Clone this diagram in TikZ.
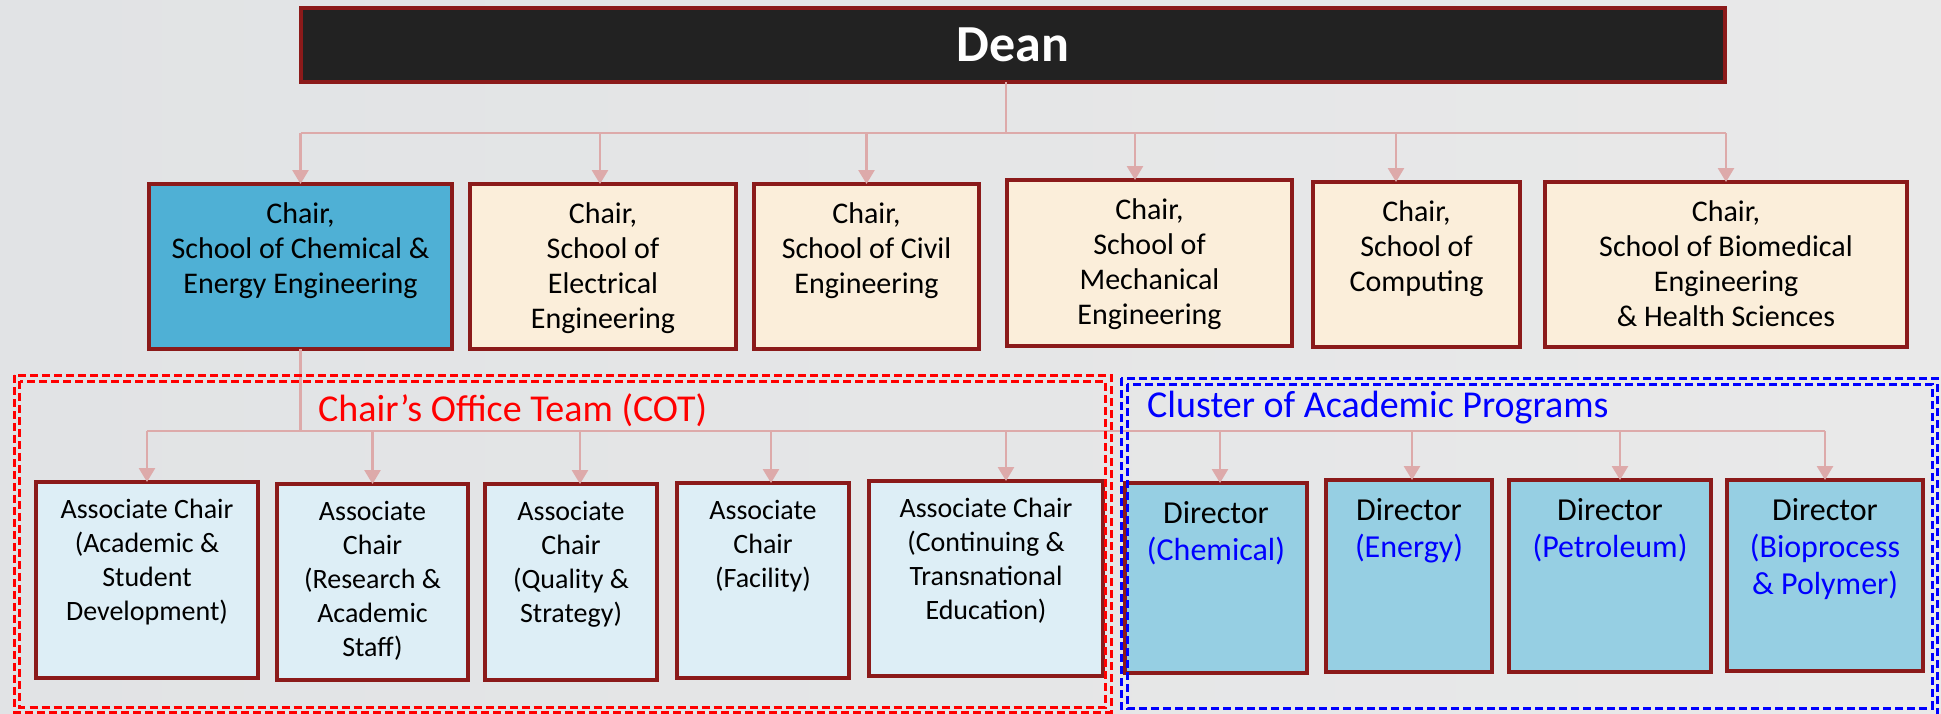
\documentclass[tikz,border=0pt]{standalone}
\usepackage{fontspec}
\setmainfont{Carlito}
\usetikzlibrary{arrows.meta}
\definecolor{bord}{HTML}{8B1A1A}
\definecolor{clink}{HTML}{DDAAAA}
\definecolor{cream}{HTML}{FBEEDA}
\definecolor{chemblue}{HTML}{4FB0D5}
\definecolor{acfill}{HTML}{DDEEF6}
\definecolor{dirfill}{HTML}{96CFE3}
\definecolor{deanfill}{HTML}{222222}
\definecolor{bgleft}{HTML}{E1E3E5}
\definecolor{bgmid}{HTML}{F7F7F7}
\definecolor{bgright}{HTML}{E9E9E9}
\definecolor{pureblue}{HTML}{0000FF}
\definecolor{purered}{HTML}{FF0000}
\tikzset{
  box/.style={draw=bord, line width=3.5pt, inner sep=0pt, outer sep=0pt},
  deanbox/.style={box, fill=deanfill, text=white, font=\bfseries\fontsize{52}{60}\selectfont},
  chairbox/.style={box, fill=cream, minimum height=165pt},
  chembox/.style={box, fill=chemblue, minimum height=165pt},
  acbox/.style={box, fill=acfill, minimum height=196pt},
  dirbox/.style={box, fill=dirfill, minimum height=192pt},
  chairtxt/.style={anchor=north, align=center, inner sep=0pt, font=\fontsize{30}{35}\selectfont},
  actxt/.style={anchor=north, align=center, inner sep=0pt, font=\fontsize{28}{34}\selectfont},
  dirtxt/.style={anchor=north, align=center, inner sep=0pt, font=\fontsize{32}{37}\selectfont},
  grouplabel/.style={anchor=base west, inner sep=0pt, font=\fontsize{38}{44}\selectfont},
  link/.style={draw=clink, line width=2.7pt},
  arr/.style={link, -{Triangle[width=16pt,length=14pt]}},
  cotframe/.style={draw=purered, line width=3pt, dash pattern=on 8pt off 4pt},
  capframe/.style={draw=pureblue, line width=3pt, dash pattern=on 8pt off 4pt},
}
\begin{document}
\begin{tikzpicture}[x=1pt,y=-1pt]
\useasboundingbox (0,0) rectangle (1941,713);
\shade[left color=bgleft, middle color=bgmid, right color=bgright] (0,0) rectangle (1941,713);

% Dean
\node[deanbox, minimum width=1424pt, minimum height=74pt] (dean) at (1013,45) {Dean};

% Chairs
\node[chembox, minimum width=303pt] (c1) at (300.5,266.5) {};
\node[chairbox, minimum width=266pt] (c2) at (603,266.5) {};
\node[chairbox, minimum width=225pt] (c3) at (866.5,266.5) {};
\node[chairbox, minimum width=285pt, minimum height=166pt] (c4) at (1149.5,263) {};
\node[chairbox, minimum width=207pt] (c5) at (1416.5,264.5) {};
\node[chairbox, minimum width=362pt] (c6) at (1726,264.5) {};

\node[chairtxt] (c1t) at ([yshift=-18pt]c1.north) {Chair,\\School of Chemical \&\\Energy Engineering};
\node[chairtxt] (c2t) at ([yshift=-18pt]c2.north) {Chair,\\School of\\Electrical\\Engineering};
\node[chairtxt] (c3t) at ([yshift=-18pt]c3.north) {Chair,\\School of Civil\\Engineering};
\node[chairtxt] (c4t) at ([yshift=-18pt]c4.north) {Chair,\\School of\\Mechanical\\Engineering};
\node[chairtxt] (c5t) at ([yshift=-18pt]c5.north) {Chair,\\School of\\Computing};
\node[chairtxt] (c6t) at ([yshift=-18pt]c6.north) {Chair,\\School of Biomedical\\Engineering\\\& Health Sciences};

% Associate chairs
\node[acbox, minimum width=222pt] (a1) at (147,580) {};
\node[acbox, minimum width=191pt] (a2) at (372.5,582) {};
\node[acbox, minimum width=172pt] (a3) at (571,582) {};
\node[acbox, minimum width=172pt, minimum height=195pt] (a4) at (763,580.5) {};
\node[acbox, minimum width=234pt, minimum height=195pt] (a5) at (986,578.5) {};

\node[actxt] (a1t) at ([yshift=-17pt]a1.north) {Associate Chair\\(Academic \&\\Student\\Development)};
\node[actxt] (a2t) at ([yshift=-17pt]a2.north) {Associate\\Chair\\(Research \&\\Academic\\Staff)};
\node[actxt] (a3t) at ([yshift=-17pt]a3.north) {Associate\\Chair\\(Quality \&\\Strategy)};
\node[actxt] (a4t) at ([yshift=-17pt]a4.north) {Associate\\Chair\\(Facility)};
\node[actxt] (a5t) at ([yshift=-17pt]a5.north) {Associate Chair\\(Continuing \&\\Transnational\\Education)};

% Directors
\node[dirbox, minimum width=182pt, minimum height=190pt] (d1) at (1216,578) {};
\node[dirbox, minimum width=166pt] (d2) at (1409,576) {};
\node[dirbox, minimum width=202pt] (d3) at (1610,576) {};
\node[dirbox, minimum width=196pt, minimum height=191pt] (d4) at (1825,575.5) {};

\node[dirtxt] (d1t) at ([yshift=-18pt]d1.north) {Director\\\textcolor{pureblue}{(Chemical)}};
\node[dirtxt] (d2t) at ([yshift=-18pt]d2.north) {Director\\\textcolor{pureblue}{(Energy)}};
\node[dirtxt] (d3t) at ([yshift=-18pt]d3.north) {Director\\\textcolor{pureblue}{(Petroleum)}};
\node[dirtxt] (d4t) at ([yshift=-18pt]d4.north) {Director\\\textcolor{pureblue}{(Bioprocess}\\\textcolor{pureblue}{\& Polymer)}};

% Group labels
\node[grouplabel, text=purered] (cotlbl) at (318,421) {Chair’s Office Team (COT)};
\node[grouplabel, text=pureblue] (caplbl) at (1147,417) {Cluster of Academic Programs};

% Connectors: Dean to chairs
\coordinate (bar) at (0,133);
\draw[link] ([xshift=-7pt]dean.south) -- ([xshift=-7pt]dean.south |- bar);
\draw[link] (c1.north |- bar) -- (c6.north |- bar);
\draw[arr] (c1.north |- bar) -- (c1.north);
\draw[arr] ([xshift=-3pt]c2.north |- bar) -- ([xshift=-3pt]c2.north);
\draw[arr] (c3.north |- bar) -- (c3.north);
\draw[arr] ([xshift=-14.5pt]c4.north |- bar) -- ([xshift=-14.5pt]c4.north);
\draw[arr] ([xshift=-20.5pt]c5.north |- bar) -- ([xshift=-20.5pt]c5.north);
\draw[arr] (c6.north |- bar) -- (c6.north);

% Connectors: chair 1 to teams
\coordinate (bartwo) at (0,431);
\draw[link] (c1.south) -- (c1.south |- bartwo);
\draw[link] (a1.north |- bartwo) -- (d4.north |- bartwo);
\draw[arr] (a1.north |- bartwo) -- (a1.north);
\draw[arr] (a2.north |- bartwo) -- (a2.north);
\draw[arr] ([xshift=9pt]a3.north |- bartwo) -- ([xshift=9pt]a3.north);
\draw[arr] ([xshift=8pt]a4.north |- bartwo) -- ([xshift=8pt]a4.north);
\draw[arr] ([xshift=20pt]a5.north |- bartwo) -- ([xshift=20pt]a5.north);
\draw[arr] ([xshift=4pt]d1.north |- bartwo) -- ([xshift=4pt]d1.north);
\draw[arr] ([xshift=3pt]d2.north |- bartwo) -- ([xshift=3pt]d2.north);
\draw[arr] ([xshift=10pt]d3.north |- bartwo) -- ([xshift=10pt]d3.north);
\draw[arr] (d4.north |- bartwo) -- (d4.north);

% Dashed double frames
\draw[cotframe] (14,375) rectangle (1111,712);
\draw[cotframe] (19.5,381) rectangle (1105,707);
\draw[capframe] (1121,378) rectangle (1937,715);
\draw[capframe] (1127,384) rectangle (1932,708);
\end{tikzpicture}
\end{document}
